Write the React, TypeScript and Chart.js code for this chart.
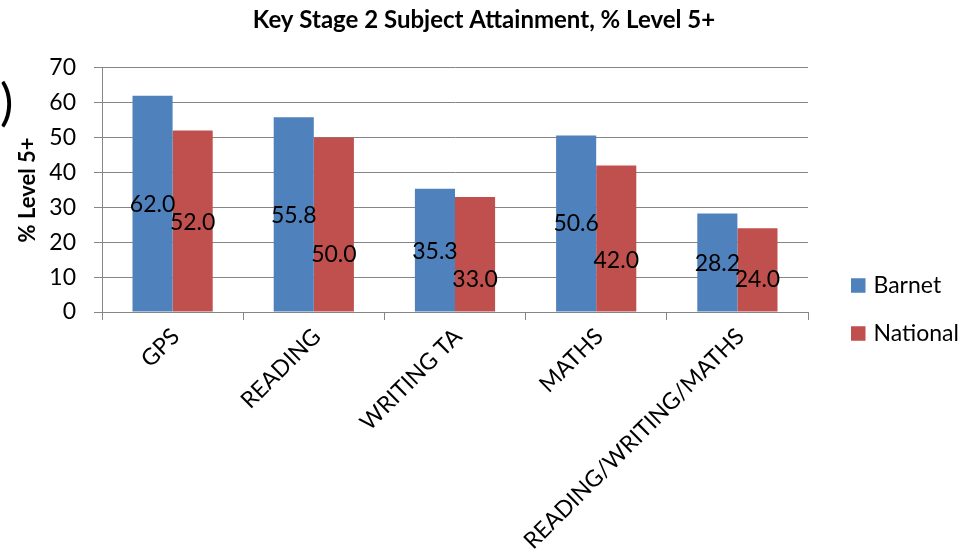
import React, { useEffect, useRef } from "react";
import { Chart, registerables } from "chart.js";

Chart.register(...registerables);

// ---- data ----
const categories = ["GPS", "READING", "WRITING TA", "MATHS", "READING/WRITING/MATHS"];
const barnetValues = [62.0, 55.8, 35.3, 50.6, 28.2];
const nationalValues = [52.0, 50.0, 33.0, 42.0, 24.0];
const seriesNames = ["Barnet", "National"];
const chartTitle = "Key Stage 2 Subject Attainment, % Level 5+";
const yAxisTitle = "% Level 5+";
const yMin = 0;
const yMax = 70;
const yStep = 10;

// ---- styles ----
const FONT = "Lato";
const GRID = "#868686";
const BARNET_COLOR = "#4F81BD";
const NATIONAL_COLOR = "#C0504D";
// vertical pixel nudges of the value labels (relative to bar middle)
const barnetLabelNudge = [1, 1, 1, 0, 1];
const nationalLabelNudge = [2, 30, 25, 22, 10];

const valueLabels = {
  id: "valueLabels",
  afterDatasetsDraw(chart: any, _args: any, opts: any) {
    const ctx = chart.ctx;
    ctx.save();
    ctx.font = `${opts.size}px ${opts.family}`;
    ctx.fillStyle = opts.color;
    ctx.textAlign = "center";
    ctx.textBaseline = "middle";
    chart.data.datasets.forEach((ds: any, i: number) => {
      const meta = chart.getDatasetMeta(i);
      const nudges = (opts.nudges && opts.nudges[i]) || [];
      meta.data.forEach((bar: any, j: number) => {
        const p = bar.getProps(["x", "y", "base"], true);
        const v = Number(ds.data[j]);
        ctx.fillText(v.toFixed(1), p.x, (p.y + p.base) / 2 + (nudges[j] || 0));
      });
    });
    ctx.restore();
  },
};

const sideLegend = {
  id: "sideLegend",
  afterDraw(chart: any, _args: any, opts: any) {
    const ctx = chart.ctx;
    ctx.save();
    ctx.font = `${opts.size}px ${opts.family}`;
    ctx.textAlign = "left";
    ctx.textBaseline = "middle";
    chart.data.datasets.forEach((ds: any, i: number) => {
      const cy = opts.top + i * opts.spacing;
      ctx.fillStyle = ds.backgroundColor;
      ctx.fillRect(opts.left, cy - opts.box / 2, opts.box, opts.box);
      ctx.fillStyle = opts.color;
      ctx.fillText(ds.label, opts.left + opts.box + opts.gap, cy);
    });
    ctx.restore();
  },
};

const edgeFragment = {
  id: "edgeFragment",
  afterDraw(chart: any, _args: any, opts: any) {
    const ctx = chart.ctx;
    ctx.save();
    ctx.font = `${opts.size}px ${opts.family}`;
    ctx.fillStyle = "#000";
    ctx.textAlign = "left";
    ctx.textBaseline = "middle";
    ctx.fillText(opts.text, opts.x, opts.y);
    ctx.restore();
  },
};

export default function App() {
  const ref = useRef<HTMLCanvasElement | null>(null);

  useEffect(() => {
    if (!ref.current) return;
    const chart = new Chart(ref.current, {
      type: "bar",
      data: {
        labels: categories,
        datasets: [
          {
            label: seriesNames[0],
            data: barnetValues,
            backgroundColor: BARNET_COLOR,
            categoryPercentage: 0.568,
            barPercentage: 1.0,
          },
          {
            label: seriesNames[1],
            data: nationalValues,
            backgroundColor: NATIONAL_COLOR,
            categoryPercentage: 0.568,
            barPercentage: 1.0,
          },
        ],
      },
      options: {
        animation: false,
        responsive: false,
        devicePixelRatio: 1,
        layout: { padding: { left: 0, right: 0, top: 0, bottom: 0 } },
        plugins: {
          legend: { display: false },
          tooltip: { enabled: false },
          title: {
            display: true,
            text: chartTitle,
            color: "#000",
            font: { family: FONT, size: 24, weight: "bold" },
            padding: { top: 6, bottom: 33 },
          },
          valueLabels: {
            family: FONT,
            size: 23,
            color: "#000",
            nudges: [barnetLabelNudge, nationalLabelNudge],
          },
          sideLegend: {
            family: FONT,
            size: 23,
            color: "#000",
            left: 851,
            top: 285.5,
            spacing: 48,
            box: 14.5,
            gap: 8,
          },
          edgeFragment: { text: ")", family: FONT, size: 50, x: 0, y: 104 },
        } as any,
        scales: {
          x: {
            grid: {
              offset: true,
              drawOnChartArea: false,
              drawTicks: true,
              tickLength: 8,
              color: GRID,
            },
            border: { color: GRID, width: 1 },
            ticks: {
              color: "#000",
              font: { family: FONT, size: 23 },
              minRotation: 45,
              maxRotation: 45,
              autoSkip: false,
              labelOffset: 3,
              padding: 3,
            },
            afterFit(scale: any) {
              scale.height = 242;
            },
          },
          y: {
            min: yMin,
            max: yMax,
            ticks: {
              stepSize: yStep,
              color: "#000",
              font: { family: FONT, size: 23 },
              padding: 18,
            },
            grid: { color: GRID, tickLength: 8 },
            border: { color: GRID, width: 1 },
            title: {
              display: true,
              text: yAxisTitle,
              color: "#000",
              font: { family: FONT, size: 22, weight: "bold" },
              padding: { top: 15, bottom: 0 },
            },
            afterFit(scale: any) {
              scale.width = 102;
            },
          },
          // empty right-hand gutter that holds the legend area
          gutter: {
            type: "linear",
            position: "right",
            display: true,
            ticks: { display: false },
            grid: { display: false },
            border: { display: false },
            afterFit(scale: any) {
              scale.width = 160;
            },
          },
        },
      },
      plugins: [valueLabels, sideLegend, edgeFragment],
    } as any);
    return () => chart.destroy();
  }, []);

  return (
    <div style={{ position: "fixed", left: 0, top: 0, width: 968, height: 554, background: "#fff" }}>
      <canvas ref={ref} width={968} height={554} style={{ display: "block" }} />
    </div>
  );
}
